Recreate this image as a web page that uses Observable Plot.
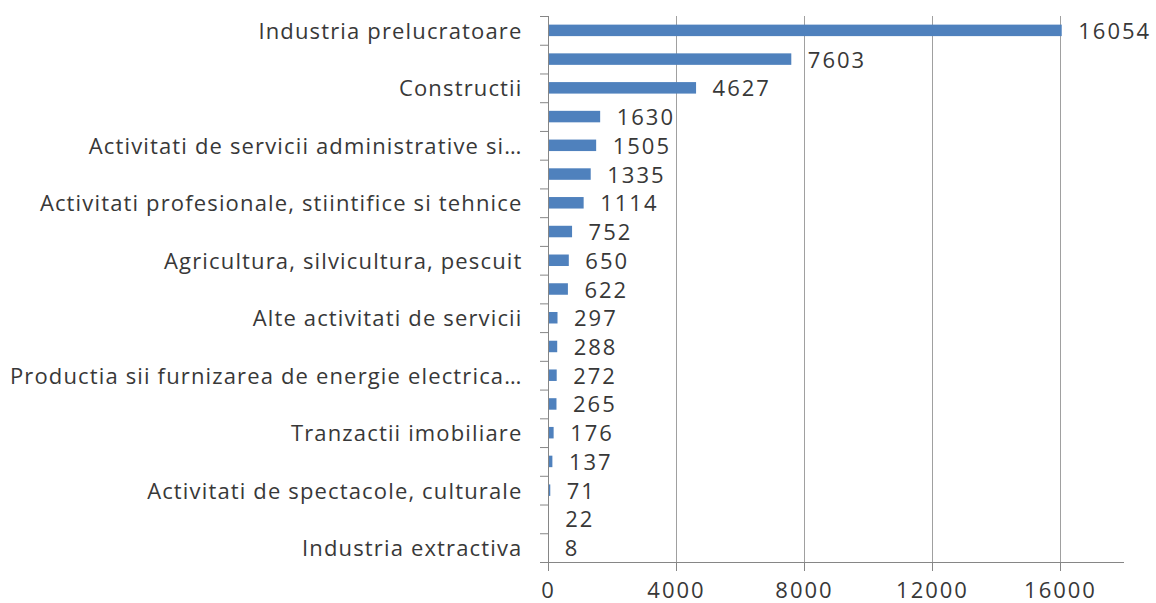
<!DOCTYPE html>
<html>
<head>
<meta charset="utf-8">
<script src="https://cdn.jsdelivr.net/npm/d3@7"></script>
<script src="https://cdn.jsdelivr.net/npm/@observablehq/plot@0.6"></script>
<style>
  body { margin: 0; background: #fff; }
  svg { display: block; }
  .lbl text { letter-spacing: 1.15px; }
  .num text { letter-spacing: 2px; }
</style>
</head>
<body>
<div id="chart"></div>
<script>
const labels = [
  "Industria prelucratoare", "", "Constructii", "",
  "Activitati de servicii administrative si…", "",
  "Activitati profesionale, stiintifice si tehnice", "",
  "Agricultura, silvicultura, pescuit", "",
  "Alte activitati de servicii", "",
  "Productia sii furnizarea de energie electrica…", "",
  "Tranzactii imobiliare", "",
  "Activitati de spectacole, culturale", "",
  "Industria extractiva"
];
const values = [16054, 7603, 4627, 1630, 1505, 1335, 1114, 752, 650, 622, 297, 288, 272, 265, 176, 137, 71, 22, 8];
const xTicks = [0, 4000, 8000, 12000, 16000];

const data = values.map((v, i) => ({i, v, label: labels[i]}));
const n = values.length;
const half = 0.2;

const chart = Plot.plot({
  width: 1156,
  height: 603,
  marginLeft: 548,
  marginRight: 32,
  marginTop: 16,
  marginBottom: 41,
  style: {fontFamily: "'Open Sans', sans-serif", fontSize: "22px", color: "#383838", background: "#fff"},
  x: {domain: [0, 18000], label: null},
  y: {domain: [n, 0], label: null},
  marks: [
    Plot.gridX(xTicks.slice(1), {stroke: "#a0a0a0", strokeOpacity: 1}),
    Plot.rectX(data, {x1: 0, x2: "v", y1: d => d.i + 0.5 - half, y2: d => d.i + 0.5 + half, fill: "#4f81bd"}),
    Plot.text(data, {x: "v", y: d => d.i + 0.5, text: d => String(d.v), textAnchor: "start", dx: 16, dy: 1, fill: "#383838", fontSize: 22, className: "num"}),
    Plot.axisY(d3.range(n + 1), {tickSize: 8, tickFormat: () => "", stroke: "#868686", label: null}),
    Plot.axisY(d3.range(n).map(i => i + 0.5), {tickSize: 0, tickPadding: 26, dy: 1, tickFormat: v => labels[Math.floor(v)], fill: "#383838", fontSize: 22, className: "lbl", label: null}),
    Plot.axisX(xTicks, {tickSize: 9, tickPadding: 11, stroke: "#868686", fill: "#383838", fontSize: 22, tickFormat: d => String(d), className: "num", label: null}),
    Plot.ruleX([0], {stroke: "#868686"}),
    Plot.ruleY([n], {stroke: "#868686"})
  ]
});
document.getElementById("chart").append(chart);
</script>
</body>
</html>
